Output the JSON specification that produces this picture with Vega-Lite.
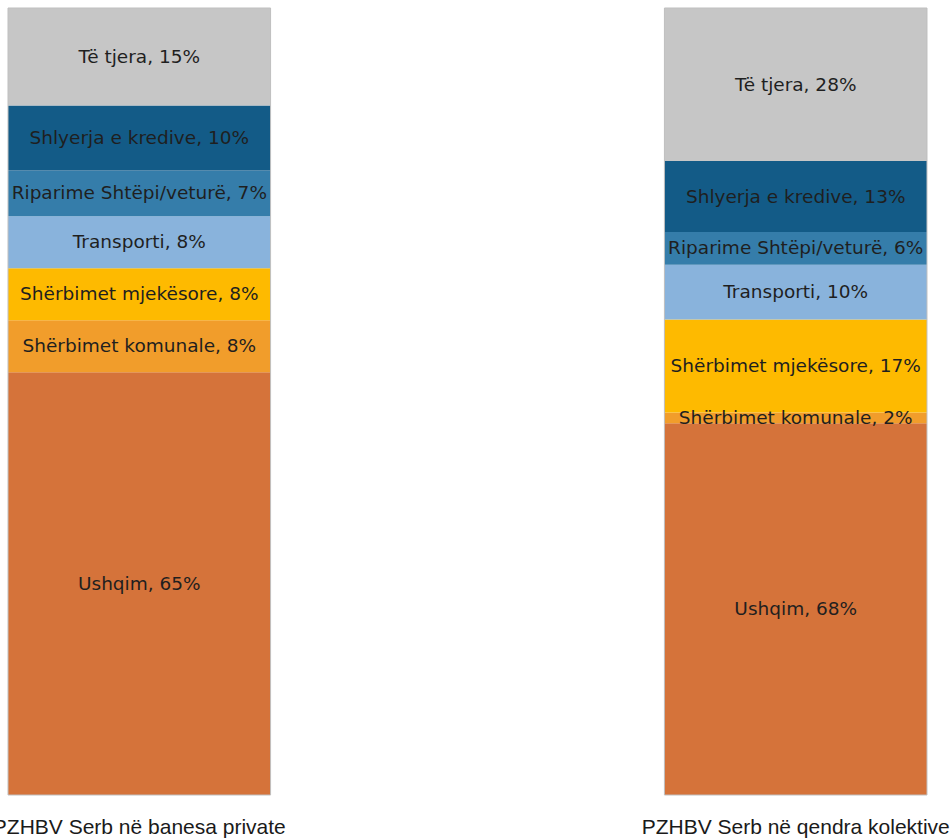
{
  "$schema": "https://vega.github.io/schema/vega-lite/v6.json",
  "width": 935,
  "height": 787,
  "autosize": {"type": "none"},
  "padding": {"left": 0, "top": 8, "right": 17, "bottom": 43},
  "background": "white",
  "config": {"view": {"stroke": null}},
  "data": {
    "values": [
      {"group": "PZHBV Serb në banesa private", "category": "Ushqim", "value": 65, "label": "Ushqim, 65%"},
      {"group": "PZHBV Serb në banesa private", "category": "Shërbimet komunale", "value": 8, "label": "Shërbimet komunale, 8%"},
      {"group": "PZHBV Serb në banesa private", "category": "Shërbimet mjekësore", "value": 8, "label": "Shërbimet mjekësore, 8%"},
      {"group": "PZHBV Serb në banesa private", "category": "Transporti", "value": 8, "label": "Transporti, 8%"},
      {"group": "PZHBV Serb në banesa private", "category": "Riparime Shtëpi/veturë", "value": 7, "label": "Riparime Shtëpi/veturë, 7%"},
      {"group": "PZHBV Serb në banesa private", "category": "Shlyerja e kredive", "value": 10, "label": "Shlyerja e kredive, 10%"},
      {"group": "PZHBV Serb në banesa private", "category": "Të tjera", "value": 15, "label": "Të tjera, 15%"},
      {"group": "PZHBV Serb në qendra kolektive", "category": "Ushqim", "value": 68, "label": "Ushqim, 68%"},
      {"group": "PZHBV Serb në qendra kolektive", "category": "Shërbimet komunale", "value": 2, "label": "Shërbimet komunale, 2%"},
      {"group": "PZHBV Serb në qendra kolektive", "category": "Shërbimet mjekësore", "value": 17, "label": "Shërbimet mjekësore, 17%"},
      {"group": "PZHBV Serb në qendra kolektive", "category": "Transporti", "value": 10, "label": "Transporti, 10%"},
      {"group": "PZHBV Serb në qendra kolektive", "category": "Riparime Shtëpi/veturë", "value": 6, "label": "Riparime Shtëpi/veturë, 6%"},
      {"group": "PZHBV Serb në qendra kolektive", "category": "Shlyerja e kredive", "value": 13, "label": "Shlyerja e kredive, 13%"},
      {"group": "PZHBV Serb në qendra kolektive", "category": "Të tjera", "value": 28, "label": "Të tjera, 28%"}
    ]
  },
  "transform": [
    {"stack": "value", "groupby": ["group"], "offset": "normalize", "as": ["y0", "y1"]}
  ],
  "encoding": {
    "x": {
      "field": "group",
      "type": "nominal",
      "sort": null,
      "scale": {"paddingInner": 0.6, "paddingOuter": 0.0122},
      "axis": {
        "title": null,
        "domain": false,
        "ticks": false,
        "labelAngle": 0,
        "labelFont": "Liberation Sans",
        "labelFontSize": 21,
        "labelColor": "#1a1a1a",
        "labelPadding": 21,
        "labelOverlap": false,
        "labelLimit": 0,
        "labelBound": false
      }
    }
  },
  "layer": [
    {
      "mark": {"type": "bar", "stroke": null},
      "encoding": {
        "y": {"field": "y0", "type": "quantitative", "scale": {"domain": [0, 1], "nice": false}, "axis": null},
        "y2": {"field": "y1"},
        "color": {
          "field": "category",
          "type": "nominal",
          "legend": null,
          "scale": {
            "domain": ["Ushqim", "Shërbimet komunale", "Shërbimet mjekësore", "Transporti", "Riparime Shtëpi/veturë", "Shlyerja e kredive", "Të tjera"],
            "range": ["#D5733A", "#F19D2B", "#FEBA00", "#89B3DC", "#357DAA", "#135B87", "#C6C6C6"]
          }
        }
      }
    },
    {
      "mark": {"type": "bar", "fillOpacity": 0, "stroke": "#BFBFBF", "strokeWidth": 1},
      "encoding": {
        "y": {"aggregate": "min", "field": "y0", "type": "quantitative"},
        "y2": {"aggregate": "max", "field": "y1"}
      }
    },
    {
      "transform": [
        {"fold": ["y0", "y1"], "as": ["k", "v"]},
        {"aggregate": [{"op": "mean", "field": "v", "as": "mid"}], "groupby": ["group", "label"]}
      ],
      "mark": {"type": "text", "font": "DejaVu Sans", "fontSize": 18.5, "color": "#1f1f1f", "baseline": "middle", "align": "center"},
      "encoding": {
        "y": {"field": "mid", "type": "quantitative"},
        "text": {"field": "label"}
      }
    }
  ]
}
